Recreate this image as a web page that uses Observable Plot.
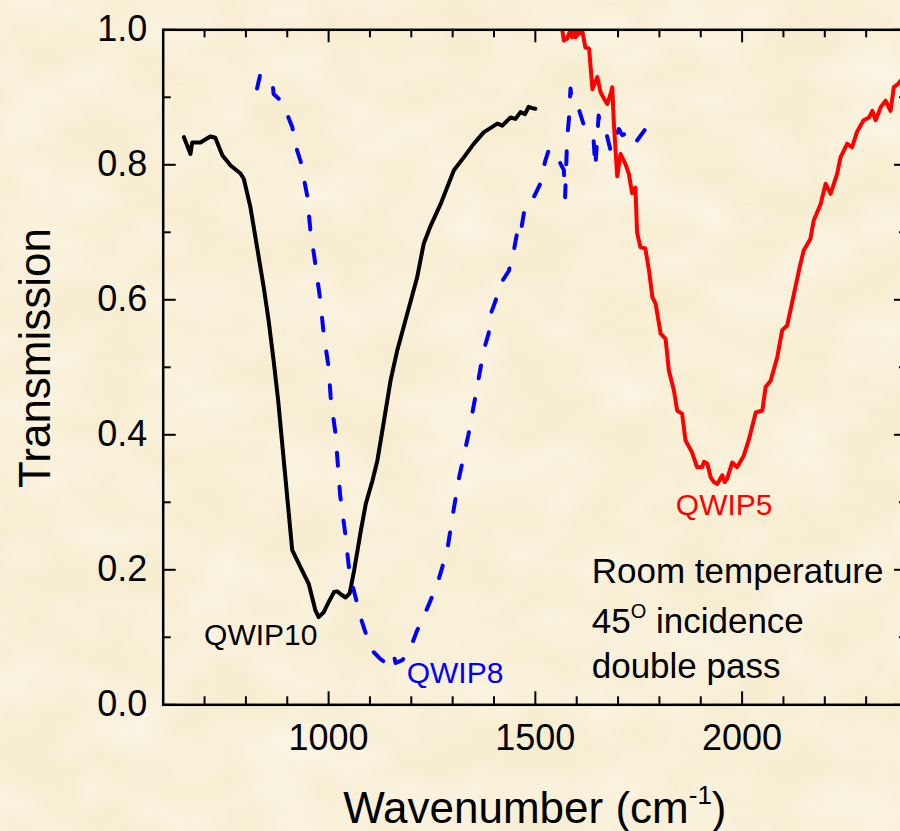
<!DOCTYPE html>
<html>
<head>
<meta charset="utf-8">
<script src="https://cdn.jsdelivr.net/npm/d3@7"></script>
<script src="https://cdn.jsdelivr.net/npm/@observablehq/plot@0.6"></script>
<style>
  html, body { margin: 0; padding: 0; overflow: hidden; background: #f7edd1; }
  #chart svg { display: block; max-width: none !important; height: 831px !important; }
</style>
</head>
<body>
<div id="chart"></div>
<script>
// ---- data ----
const qwip10Wavenumber = [650,666,670,690,714,726,743,763,787,795,811,827,843,855,867,878,895,912,932,952,968,976,988,1000,1013,1021,1031,1041,1051,1062,1078,1090,1106,1118,1134,1150,1166,1190,1214,1230,1247,1271,1303,1327,1351,1375,1408,1420,1440,1452,1464,1475,1484,1492,1500];
const qwip10Transmission = [0.841,0.816,0.833,0.833,0.842,0.840,0.814,0.799,0.787,0.779,0.737,0.678,0.619,0.569,0.510,0.451,0.340,0.229,0.204,0.179,0.140,0.130,0.137,0.152,0.167,0.168,0.163,0.159,0.165,0.200,0.258,0.298,0.332,0.362,0.421,0.481,0.525,0.579,0.633,0.683,0.710,0.742,0.792,0.811,0.831,0.848,0.861,0.858,0.870,0.868,0.878,0.875,0.886,0.884,0.883];

const qwip8Wavenumber = [827,834,850,864,867,888,912,924,932,948,956,968,980,988,1000,1005,1017,1028,1040,1049,1057,1069,1077,1093,1109,1125,1141,1150,1154,1158,1162,1170,1178,1194,1214,1226,1246,1263,1275,1287,1300,1315,1338,1359,1375,1387,1392,1404,1416,1436,1448,1460,1466,1476,1496,1512,1524,1532,1544,1553,1569,1572,1577,1581,1585,1589,1605,1621,1641,1645,1653,1658,1670,1682,1702,1710,1738,1746,1778,1795];
const qwip8Transmission = [0.913,0.932,0.928,0.925,0.905,0.893,0.856,0.821,0.806,0.755,0.703,0.653,0.599,0.550,0.500,0.456,0.400,0.310,0.255,0.204,0.179,0.150,0.130,0.100,0.078,0.068,0.061,0.060,0.063,0.073,0.062,0.064,0.066,0.078,0.110,0.125,0.154,0.179,0.204,0.229,0.280,0.335,0.400,0.470,0.525,0.550,0.579,0.599,0.624,0.643,0.673,0.713,0.705,0.742,0.752,0.772,0.806,0.821,0.809,0.811,0.792,0.752,0.841,0.866,0.913,0.890,0.883,0.851,0.836,0.796,0.873,0.856,0.851,0.821,0.853,0.844,0.851,0.836,0.863,0.853];

const qwip5Wavenumber = [1560,1565,1569,1577,1585,1589,1595,1597,1607,1613,1621,1630,1638,1650,1658,1666,1674,1682,1686,1690,1698,1706,1718,1726,1734,1742,1746,1754,1766,1775,1783,1791,1803,1815,1823,1835,1843,1855,1863,1879,1891,1903,1908,1916,1924,1932,1940,1952,1958,1964,1976,1988,2004,2016,2033,2049,2057,2069,2085,2097,2109,2121,2129,2141,2149,2165,2173,2190,2202,2214,2230,2238,2254,2266,2278,2294,2307,2315,2323,2335,2347,2359,2367,2376,2384,2400];
const qwip5Transmission = [1.02,1.0,0.984,0.987,1.0,0.989,1.0,0.989,0.996,1.0,0.974,0.972,0.912,0.930,0.907,0.898,0.890,0.905,0.915,0.860,0.783,0.816,0.801,0.787,0.758,0.766,0.700,0.678,0.676,0.643,0.604,0.594,0.550,0.542,0.495,0.466,0.436,0.431,0.392,0.374,0.352,0.352,0.360,0.357,0.337,0.330,0.327,0.340,0.330,0.335,0.359,0.352,0.369,0.392,0.433,0.436,0.471,0.480,0.515,0.555,0.562,0.596,0.619,0.653,0.673,0.690,0.717,0.742,0.772,0.757,0.787,0.811,0.831,0.826,0.849,0.866,0.870,0.880,0.866,0.885,0.895,0.880,0.915,0.919,0.925,0.930];

const xMajorTicks = [1000, 1500, 2000];
const xMinorTicks = [700, 800, 900, 1100, 1200, 1300, 1400, 1600, 1700, 1800, 1900, 2100, 2200, 2300];
const yMajorTicks = [0, 0.2, 0.4, 0.6, 0.8, 1.0];
const yMinorTicks = [0.1, 0.3, 0.5, 0.7, 0.9];

const seriesLabels = [
  {text: "QWIP10", x: 700, y: 0.088, color: "#000000"},
  {text: "QWIP8", x: 1190, y: 0.032, color: "#0000ff"},
  {text: "QWIP5", x: 1841, y: 0.280, color: "#ff0000"}
];
const noteLines = ["Room temperature", "45", "double pass"];

const toRows = (ws, ts) => ws.map((w, i) => ({w, t: ts[i]}));
const qwip10 = toRows(qwip10Wavenumber, qwip10Transmission);
const qwip8 = toRows(qwip8Wavenumber, qwip8Transmission);
const qwip5 = toRows(qwip5Wavenumber, qwip5Transmission);

const W = 910, H = 831;
const mL = 162.7, mR = 3, mT = 29.3, mB = 126.7;
const plotW = W - mL - mR, plotH = H - mT - mB;
const font = "'Liberation Sans', Arial, Helvetica, sans-serif";
const major = 13, minor = 8;

const chart = Plot.plot({
  width: W, height: H,
  marginLeft: mL, marginRight: mR, marginTop: mT, marginBottom: mB,
  style: {background: "transparent", fontFamily: font, fontSize: "36px", color: "black", maxWidth: "none"},
  x: {domain: [600, 2400]},
  y: {domain: [0, 1]},
  marks: [
    // inward ticks on all four sides
    Plot.tickX(xMajorTicks, {x: d => d, insetTop: plotH - major, stroke: "black", strokeWidth: 2}),
    Plot.tickX(xMinorTicks, {x: d => d, insetTop: plotH - minor, stroke: "black", strokeWidth: 2}),
    Plot.tickX(xMajorTicks, {x: d => d, insetBottom: plotH - major, stroke: "black", strokeWidth: 2}),
    Plot.tickX(xMinorTicks, {x: d => d, insetBottom: plotH - minor, stroke: "black", strokeWidth: 2}),
    Plot.tickY(yMajorTicks, {y: d => d, insetRight: plotW - major, stroke: "black", strokeWidth: 2}),
    Plot.tickY(yMinorTicks, {y: d => d, insetRight: plotW - minor, stroke: "black", strokeWidth: 2}),
    Plot.tickY(yMajorTicks, {y: d => d, insetLeft: plotW - major, stroke: "black", strokeWidth: 2}),
    Plot.tickY(yMinorTicks, {y: d => d, insetLeft: plotW - minor, stroke: "black", strokeWidth: 2}),
    Plot.axisX({ticks: xMajorTicks, tickSize: 0, tickPadding: 20, fontSize: 36, label: null, fill: "black", tickFormat: d => String(d)}),
    Plot.axisY({ticks: yMajorTicks, tickSize: 0, tickPadding: 16, fontSize: 36, label: null, fill: "black", tickFormat: d => d.toFixed(1)}),
    Plot.line(qwip10, {x: "w", y: "t", stroke: "black", strokeWidth: 4, strokeLinejoin: "round", clip: true}),
    Plot.line(qwip8, {x: "w", y: "t", stroke: "#0000ff", strokeWidth: 4, strokeDasharray: "13,21", strokeLinecap: "round", strokeLinejoin: "round", clip: true}),
    Plot.line(qwip5, {x: "w", y: "t", stroke: "#ff0000", strokeWidth: 4, strokeLinejoin: "round", clip: true}),
    Plot.frame({stroke: "black", strokeWidth: 2.5})
  ]
});

const sx = chart.scale("x"), sy = chart.scale("y");
const svg = d3.select(chart);

// subtle parchment texture behind everything
const defs = svg.insert("defs", ":first-child");
const f = defs.append("filter").attr("id", "parchment").attr("x", 0).attr("y", 0).attr("width", "100%").attr("height", "100%");
f.append("feTurbulence").attr("type", "fractalNoise").attr("baseFrequency", "0.012 0.018").attr("numOctaves", 3).attr("seed", 7);
f.append("feColorMatrix").attr("type", "matrix")
  .attr("values", "0 0 0 0 1  0 0 0 0 0.975  0 0 0 0 0.92  0.9 0 0 0 -0.28");
svg.insert("rect", "defs + *")
  .attr("x", 0).attr("y", 0).attr("width", W).attr("height", H)
  .attr("fill", "#fff").attr("filter", "url(#parchment)");

// axis titles
svg.append("text")
  .attr("transform", `translate(50,358) rotate(-90)`)
  .attr("text-anchor", "middle")
  .attr("font-family", font).attr("font-size", 44).attr("fill", "black")
  .text("Transmission");

const xt = svg.append("text")
  .attr("x", (mL + W - mR) / 2).attr("y", 823)
  .attr("text-anchor", "middle")
  .attr("font-family", font).attr("font-size", 44).attr("fill", "black");
xt.append("tspan").text("Wavenumber (cm");
xt.append("tspan").attr("font-size", 26).attr("dy", -19).text("-1");
xt.append("tspan").attr("dy", 19).text(")");

// series labels
for (const l of seriesLabels) {
  svg.append("text")
    .attr("x", sx.apply(l.x)).attr("y", sy.apply(l.y))
    .attr("text-anchor", "start")
    .attr("font-family", font).attr("font-size", 30).attr("fill", l.color)
    .text(l.text);
}

// note
const nx = sx.apply(1637.5);
svg.append("text").attr("x", nx).attr("y", sy.apply(0.180))
  .attr("text-anchor", "start")
  .attr("font-family", font).attr("font-size", 35).attr("fill", "black")
  .text(noteLines[0]);
const n2 = svg.append("text").attr("x", nx).attr("y", sy.apply(0.106))
  .attr("text-anchor", "start")
  .attr("font-family", font).attr("font-size", 35).attr("fill", "black");
n2.append("tspan").text(noteLines[1]);
n2.append("tspan").attr("font-size", 20).attr("dy", -15).text("O");
n2.append("tspan").attr("dy", 15).text(" incidence");
svg.append("text").attr("x", nx).attr("y", sy.apply(0.039))
  .attr("text-anchor", "start")
  .attr("font-family", font).attr("font-size", 35).attr("fill", "black")
  .text(noteLines[2]);

document.getElementById("chart").appendChild(chart);
</script>
</body>
</html>
